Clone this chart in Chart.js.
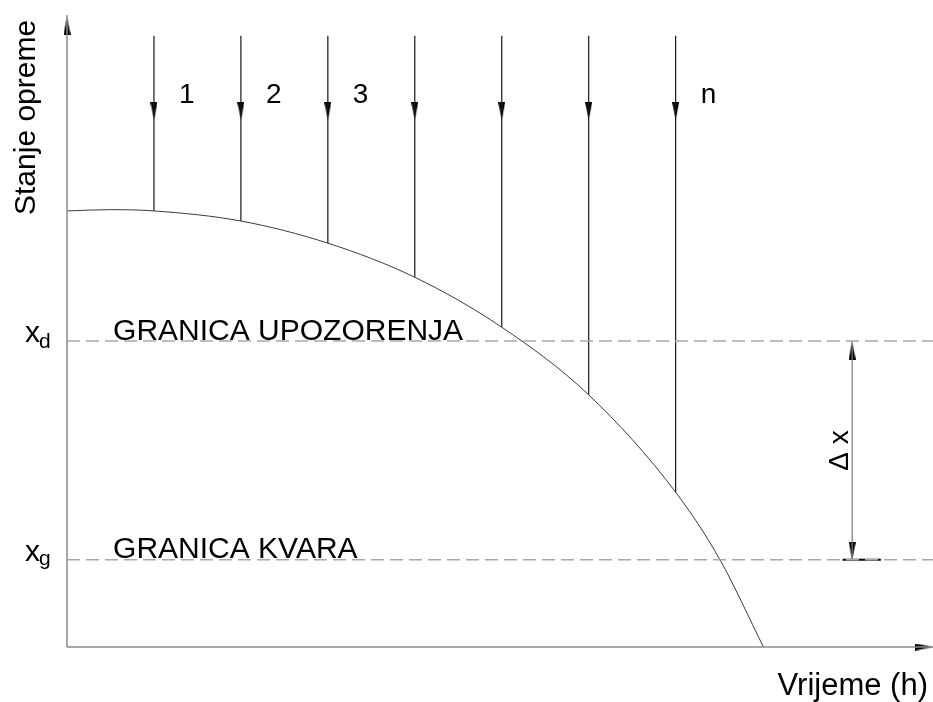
<!DOCTYPE html>
<html>
<head>
<meta charset="utf-8">
<script src="https://cdn.jsdelivr.net/npm/chart.js@4"></script>
<style>
  html, body { margin: 0; padding: 0; background: #fff; }
  canvas { display: block; }
</style>
</head>
<body>
<canvas id="wear-chart" width="933" height="702"></canvas>
<script>
// degradation curve of the equipment state over time
const hours = [0, 5, 10, 20, 30, 40, 50, 60, 70, 75.1, 80.1]
const state = [69.0, 69.2, 69.0, 67.4, 63.9, 58.5, 50.6, 39.9, 24.5, 13.8, 0]

// inspections (arrows coming down onto the curve)
const inspections = [10, 20, 30, 40, 50, 60, 70]
const inspectionLabels = ['1', '2', '3', '', '', '', 'n']
const inspectionTop = 96.7
const inspectionHead = 84.8

// limits
const warningLimit = 48.4   // x_d
const failureLimit = 13.8   // x_g
const deltaX = 90.3

const X_MAX = 99.6
const Y_MAX = 100
const AXIS_COLOR = '#8a8a8a'
const DASH_COLOR = '#a9a9a9'
const FONT = '"Liberation Sans", Arial, sans-serif'

function arrowHead(w, h, color) {
    const c = document.createElement('canvas')
    c.width = w
    c.height = h
    const g = c.getContext('2d')
    g.fillStyle = color
    g.beginPath()
    g.moveTo(0, 0)
    g.lineTo(w, 0)
    g.lineTo(w / 2, h)
    g.closePath()
    g.fill()
    return c
}
const head = arrowHead(7, 18, '#000')

const curveData = hours.map((h, i) => ({ x: h, y: state[i] }))

const lineSet = (data, color, width, dash) => ({
    data: data,
    showLine: true,
    borderColor: color,
    borderWidth: width,
    borderDash: dash || [],
    pointRadius: 0,
    clip: false,
})

const datasets = []
datasets.push(lineSet([{ x: 0, y: 0 }, { x: 0, y: Y_MAX }], AXIS_COLOR, 1.5))
datasets.push(lineSet([{ x: 0, y: 0 }, { x: X_MAX, y: 0 }], AXIS_COLOR, 1.5))
datasets.push(lineSet([{ x: 0, y: warningLimit }, { x: X_MAX, y: warningLimit }], DASH_COLOR, 1.5, [13, 6]))
datasets.push(lineSet([{ x: 0, y: failureLimit }, { x: X_MAX, y: failureLimit }], DASH_COLOR, 1.5, [13, 6]))

const curve = lineSet(curveData, '#3a3a3a', 1)
curve.cubicInterpolationMode = 'monotone'
datasets.push(curve)

inspections.forEach(h => {
    const end = state[hours.indexOf(h)]
    datasets.push(lineSet([{ x: h, y: inspectionTop }, { x: h, y: end }], '#1a1a1a', 1.2))
})

// delta x dimension line
datasets.push(lineSet([{ x: deltaX, y: warningLimit }, { x: deltaX, y: failureLimit }], '#7a7a7a', 1.2))
datasets.push(lineSet([{ x: 89.2, y: failureLimit }, { x: 93.6, y: failureLimit }], '#000', 2))

// arrow heads
datasets.push({
    data: inspections.map(h => ({ x: h, y: inspectionHead })),
    pointStyle: head,
    pointRadius: 5,
    pointRotation: 0,
    showLine: false,
    clip: false,
})
datasets.push({
    data: [{ x: 0, y: 98.3 }, { x: deltaX, y: 46.9 }],
    pointStyle: head,
    pointRadius: 5,
    pointRotation: 180,
    showLine: false,
    clip: false,
})
datasets.push({
    data: [{ x: deltaX, y: 15.2 }],
    pointStyle: head,
    pointRadius: 5,
    pointRotation: 0,
    showLine: false,
    clip: false,
})
datasets.push({
    data: [{ x: 98.6, y: 0 }],
    pointStyle: head,
    pointRadius: 5,
    pointRotation: 270,
    showLine: false,
    clip: false,
})

const textPlugin = {
    id: 'diagramText',
    afterDatasetsDraw(chart) {
        const ctx = chart.ctx
        const xs = chart.scales.x
        const ys = chart.scales.y
        ctx.save()
        ctx.fillStyle = '#000'
        ctx.textBaseline = 'alphabetic'
        ctx.textAlign = 'left'

        ctx.font = '30px ' + FONT
        ctx.fillText('GRANICA UPOZORENJA', xs.getPixelForValue(5.3), ys.getPixelForValue(warningLimit) - 1)
        ctx.fillText('GRANICA KVARA', xs.getPixelForValue(5.3), ys.getPixelForValue(failureLimit) - 2)

        // limit symbols
        ctx.fillText('x', 25, ys.getPixelForValue(warningLimit) + 1)
        ctx.fillText('x', 25, ys.getPixelForValue(failureLimit) + 1)
        ctx.font = '21px ' + FONT
        ctx.fillText('d', 39, ys.getPixelForValue(warningLimit) + 7)
        ctx.fillText('g', 39, ys.getPixelForValue(failureLimit) + 5)

        // inspection numbers
        ctx.font = '28px ' + FONT
        inspections.forEach((h, i) => {
            if (!inspectionLabels[i]) return
            ctx.fillText(inspectionLabels[i], xs.getPixelForValue(h) + 25, 103)
        })

        // axis titles
        ctx.font = '31px ' + FONT
        ctx.textAlign = 'right'
        ctx.fillText('Vrijeme (h)', 928, 695)

        ctx.save()
        ctx.font = '30px ' + FONT
        ctx.translate(35, 215)
        ctx.rotate(-Math.PI / 2)
        ctx.textAlign = 'left'
        ctx.fillText('Stanje opreme', 0, 0)
        ctx.restore()

        ctx.save()
        ctx.translate(xs.getPixelForValue(deltaX) - 4, (ys.getPixelForValue(warningLimit) + ys.getPixelForValue(failureLimit)) / 2)
        ctx.rotate(-Math.PI / 2)
        ctx.textAlign = 'center'
        ctx.font = '28px ' + FONT
        ctx.fillText('\u0394 x', 0, 0)
        ctx.restore()

        ctx.restore()
    }
}

const el = document.getElementById('wear-chart')
new Chart(el, {
    type: 'scatter',
    data: { datasets: datasets },
    options: {
        responsive: false,
        animation: false,
        layout: { autoPadding: false, padding: { left: 67, right: 0, top: 15, bottom: 55 } },
        plugins: {
            legend: { display: false },
            tooltip: { enabled: false },
        },
        scales: {
            x: { type: 'linear', min: 0, max: X_MAX, display: false },
            y: { type: 'linear', min: 0, max: Y_MAX, display: false },
        },
    },
    plugins: [textPlugin],
})
</script>
</body>
</html>
